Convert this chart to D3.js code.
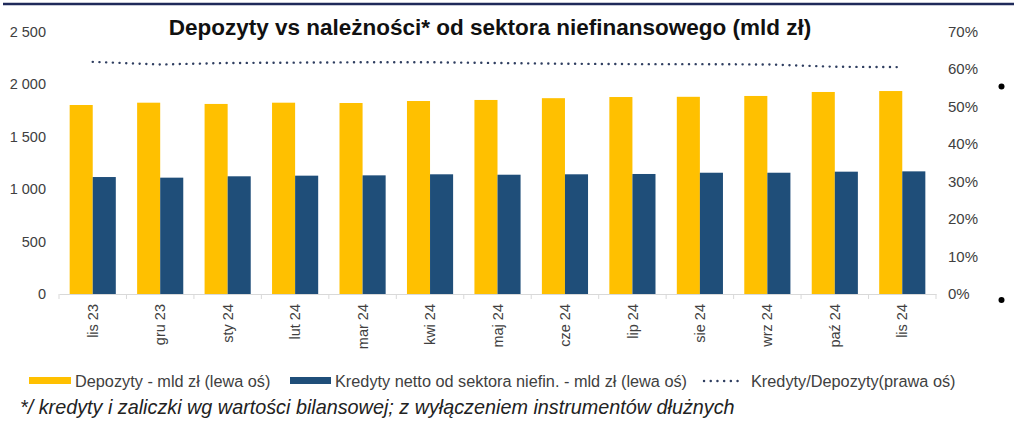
<!DOCTYPE html>
<html><head><meta charset="utf-8">
<script src="https://cdn.jsdelivr.net/npm/d3@7"></script>
<style>body{margin:0;background:#fff}svg{display:block;font-family:"Liberation Sans",Arial,sans-serif}</style>
</head><body><svg id="c" width="1024" height="425"></svg>
<script>
const categories = ["lis 23","gru 23","sty 24","lut 24","mar 24","kwi 24","maj 24","cze 24","lip 24","sie 24","wrz 24","paź 24","lis 24"];
const depozyty = [1800,1822,1810,1822,1819,1838,1848,1865,1876,1878,1886,1924,1933];
const kredyty = [1114,1108,1121,1127,1130,1140,1136,1140,1143,1155,1155,1165,1168];
const ratio = [61.9,61.2,61.6,61.7,61.8,61.8,61.6,61.4,61.3,61.3,61.2,60.6,60.5];
const leftTicks = [0,500,1000,1500,2000,2500];
const rightTicks = [0,10,20,30,40,50,60,70];
const seriesNames = ["Depozyty - mld zł (lewa oś)","Kredyty netto od sektora niefin. - mld zł (lewa oś)","Kredyty/Depozyty(prawa oś)"];
const colors = {dep:"#FFC000", kre:"#1F4E79", line:"#2F3E60", text:"#404040"};

const svg = d3.select("#c");
const plot = {left:59, right:936, top:31.5, bottom:294};
const x0 = d3.scaleBand().domain(categories).range([plot.left, plot.right]).paddingInner(0.316).paddingOuter(0.158);
const x1 = d3.scaleBand().domain(["dep","kre"]).range([0, x0.bandwidth()]);
const yL = d3.scaleLinear().domain([0,2500]).range([plot.bottom, plot.top]);
const yR = d3.scaleLinear().domain([0,70]).range([plot.bottom, plot.top]);
const loc = d3.formatLocale({decimal:",", thousands:"\u00a0", grouping:[3], currency:["","zł"]});
const fmt = loc.format(",d");

// top border
svg.append("line").attr("x1",3).attr("x2",1014).attr("y1",4).attr("y2",4).attr("stroke","#1F2A5A").attr("stroke-width",2.5);

// title
svg.append("text").attr("x",490).attr("y",35).attr("text-anchor","middle").attr("font-weight","bold").attr("font-size",22.5).attr("fill","#111")
  .text("Depozyty vs należności* od sektora niefinansowego (mld zł)");

// left axis
const gL = svg.append("g").attr("transform",`translate(${plot.left},0)`)
  .call(d3.axisLeft(yL).tickValues(leftTicks).tickFormat(fmt).tickSize(0).tickPadding(13));
gL.select(".domain").remove();
gL.selectAll("text").attr("font-size",14.5).attr("fill",colors.text).attr("font-family","Liberation Sans, Arial, sans-serif");

// right axis
const gR = svg.append("g").attr("transform",`translate(948,0)`)
  .call(d3.axisRight(yR).tickValues(rightTicks).tickFormat(d=>d+"%").tickSize(0).tickPadding(0));
gR.select(".domain").remove();
gR.selectAll("text").attr("font-size",15).attr("fill",colors.text).attr("font-family","Liberation Sans, Arial, sans-serif");

// bars
const groups = svg.append("g").selectAll("g").data(categories).join("g")
  .attr("transform", d=>`translate(${x0(d)},0)`);
groups.append("rect").attr("x",x1("dep")).attr("width",x1.bandwidth())
  .attr("y",(d,i)=>yL(depozyty[i])).attr("height",(d,i)=>yL(0)-yL(depozyty[i])).attr("fill",colors.dep);
groups.append("rect").attr("x",x1("kre")).attr("width",x1.bandwidth())
  .attr("y",(d,i)=>yL(kredyty[i])).attr("height",(d,i)=>yL(0)-yL(kredyty[i])).attr("fill",colors.kre);

// x axis
const gX = svg.append("g").attr("transform",`translate(0,${plot.bottom})`)
  .call(d3.axisBottom(x0).tickSize(0).tickPadding(0));
gX.select(".domain").attr("stroke","#D9D9D9").attr("stroke-width",1.2);
gX.selectAll(".tick text").attr("font-size",14.5).attr("fill",colors.text).attr("font-family","Liberation Sans, Arial, sans-serif")
  .attr("transform","rotate(-90)").attr("text-anchor","end").attr("x",-10).attr("y",0).attr("dy","0.35em");
const bounds = d3.range(categories.length+1).map(i=>plot.left + i*(plot.right-plot.left)/categories.length);
svg.append("g").selectAll("line").data(bounds).join("line")
  .attr("x1",d=>d).attr("x2",d=>d).attr("y1",plot.bottom).attr("y2",plot.bottom+5).attr("stroke","#D9D9D9");

// ratio line
const line = d3.line().x((d,i)=>x0(categories[i])+x0.bandwidth()/2).y(d=>yR(d));
svg.append("path").datum(ratio).attr("d",line).attr("fill","none").attr("stroke",colors.line)
  .attr("stroke-width",2.4).attr("stroke-linecap","round").attr("stroke-dasharray","0.1,6.6");

// stray dots
svg.append("circle").attr("cx",1001.5).attr("cy",86.5).attr("r",3).attr("fill","#000");
svg.append("circle").attr("cx",1001.5).attr("cy",300).attr("r",3).attr("fill","#000");

// legend
const lg = svg.append("g").attr("font-size",16.3).attr("fill",colors.text);
lg.append("rect").attr("x",29).attr("y",377).attr("width",42).attr("height",7).attr("fill",colors.dep);
lg.append("text").attr("x",75).attr("y",386.5).text(seriesNames[0]);
lg.append("rect").attr("x",290).attr("y",377).attr("width",41).attr("height",7).attr("fill",colors.kre);
lg.append("text").attr("x",335).attr("y",386.5).text(seriesNames[1]);
lg.append("line").attr("x1",704).attr("x2",744).attr("y1",381).attr("y2",381).attr("stroke",colors.line)
  .attr("stroke-width",2.4).attr("stroke-linecap","round").attr("stroke-dasharray","0.1,6.6");
lg.append("text").attr("x",751).attr("y",386.5).text(seriesNames[2]);

// footnote
svg.append("text").attr("x",20).attr("y",414).attr("font-size",19.8).attr("font-style","italic").attr("fill","#222")
  .text("*/ kredyty i zaliczki wg wartości bilansowej; z wyłączeniem instrumentów dłużnych");
</script></body></html>
